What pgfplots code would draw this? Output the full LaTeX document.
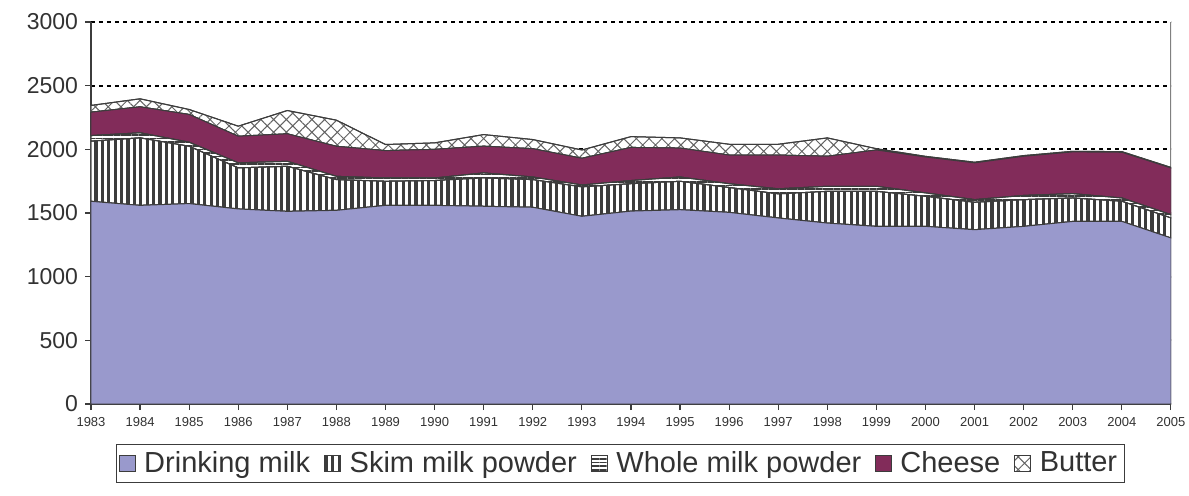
\documentclass[border=0pt]{standalone}
\usepackage{pgfplots}
\pgfplotsset{compat=1.18}
\usepackage{pgfplotstable}
\usetikzlibrary{patterns,patterns.meta}
\usepackage{fontspec}
\setmainfont{Liberation Sans}
\definecolor{milk}{RGB}{153,153,204}
\definecolor{cheese}{RGB}{130,44,90}
\definecolor{edge}{RGB}{60,60,60}
\definecolor{txt}{RGB}{50,50,50}

\pgfplotstableread{
year D S W C B
1983 1592 472 44 184 53
1984 1560 530 40 204 63
1985 1574 450 32 218 39
1986 1532 322 40 209 79
1987 1513 354 39 216 183
1988 1521 241 26 236 205
1989 1560 189 26 215 48
1990 1560 195 20 225 51
1991 1553 223 39 210 91
1992 1545 217 21 222 72
1993 1474 231 15 210 65
1994 1515 215 25 260 85
1995 1526 223 34 227 80
1996 1505 195 30 225 85
1997 1461 189 40 265 85
1998 1421 249 40 236 144
1999 1395 275 40 285 10
2000 1395 236 27 282 5
2001 1369 215 21 289 5
2002 1395 210 33 308 5
2003 1434 184 34 328 5
2004 1434 158 26 359 5
2005 1304 157 26 367 4
}\datatable

\begin{document}
\begin{tikzpicture}
\begin{axis}[
  scale only axis,
  width=540pt, height=191pt,
  xmin=1983, xmax=2005, ymin=0, ymax=3000,
  xtick={1983,...,2005},
  ytick={0,500,...,3000},
  /pgf/number format/assume math mode=true,
  /pgf/number format/1000 sep={},
  x tick label style={font=\fontsize{6.5}{8}\selectfont, text=txt},
  y tick label style={font=\fontsize{11.5}{13}\selectfont, text=txt},
  axis x line*=bottom, axis y line*=left,
  axis line style={edge, line width=0.7pt},
  tick style={edge, line width=0.6pt},
  tick align=outside,
  major tick length=3pt,
  ymajorgrids,
  grid style={black, line width=1.1pt, dash pattern=on 2.2pt off 1.8pt},
  stack plots=y,
  area legend,
  legend columns=-1,
  legend style={at={(0.49,-0.155)}, anchor=center, draw=edge, line width=0.6pt,
    font=\fontsize{14.5}{16}\selectfont, text=txt,
    inner sep=1.5pt,
    /tikz/every even column/.append style={column sep=5pt}},
  legend image code/.code={\draw[#1, line width=0.5pt] (0cm,-0.14cm) rectangle (0.28cm,0.14cm); \path[draw=none, fill=none] (0.36cm,0);},
]
\addplot[draw=edge, line width=0.5pt, fill=milk] table[x=year, y=D] {\datatable} \closedcycle;
\addlegendentry{Drinking milk}
\addplot[draw=edge, line width=0.5pt, fill=white, postaction={pattern={Lines[angle=90, distance=3.2pt, line width=1.6pt]}, pattern color=edge}] table[x=year, y=S] {\datatable} \closedcycle;
\addlegendentry{Skim milk powder}
\addplot[draw=edge, line width=0.5pt, fill=white, postaction={pattern={Lines[angle=0, distance=1.8pt, line width=0.8pt]}, pattern color=edge}] table[x=year, y=W] {\datatable} \closedcycle;
\addlegendentry{Whole milk powder}
\addplot[draw=edge, line width=0.5pt, fill=cheese] table[x=year, y=C] {\datatable} \closedcycle;
\addlegendentry{Cheese}
\addplot[draw=edge, line width=0.5pt, fill=white, postaction={pattern={Hatch[angle=45, distance=4.5pt, line width=0.5pt]}, pattern color=edge!80}] table[x=year, y=B] {\datatable} \closedcycle;
\addlegendentry{Butter}
\draw[gray, line width=0.7pt] (rel axis cs:1,0) -- (rel axis cs:1,1);
\end{axis}
\pgfresetboundingbox
\path[use as bounding box] (-45.5pt,-45.5pt) rectangle (549pt,202pt);
\end{tikzpicture}
\end{document}
